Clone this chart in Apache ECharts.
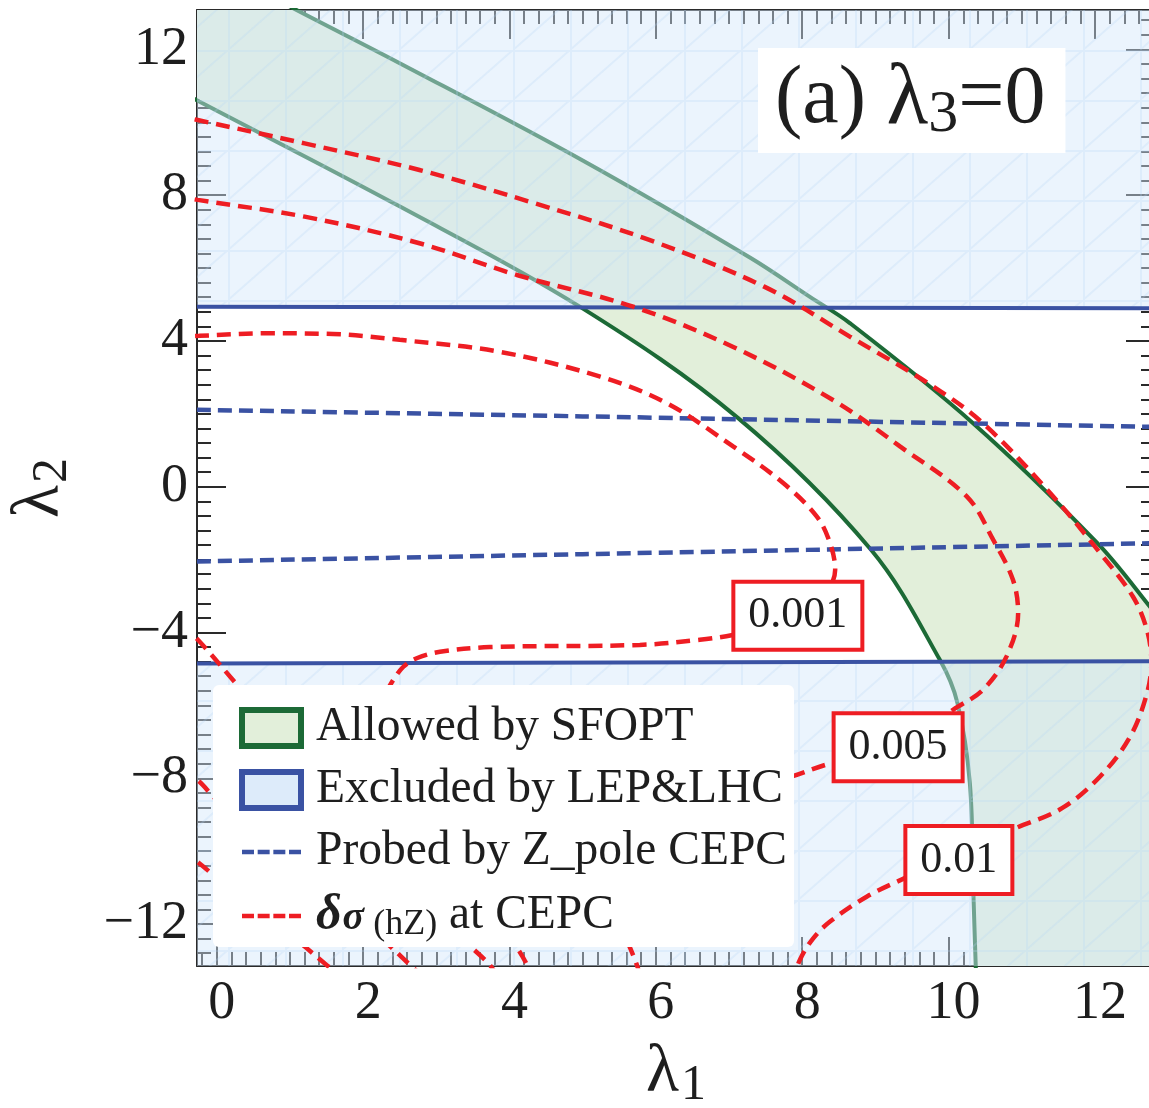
<!DOCTYPE html>
<html>
<head>
<meta charset="utf-8">
<title>(a) λ3=0</title>
<script src="https://cdn.jsdelivr.net/npm/echarts@6.0.0/dist/echarts.min.js"></script>
<style>
html,body{margin:0;padding:0;background:#ffffff;}
#chart{width:1149px;height:1108px;}
</style>
</head>
<body>
<div id="chart"></div>
<script>
// ---------------- axes ----------------
const xRange = [-0.27, 12.82];
const yRange = [-13.15, 13.08];
const xTickValues = [0, 2, 4, 6, 8, 10, 12];
const yTickValues = [-12, -8, -4, 0, 4, 8, 12];
const xMinorStep = 0.2;
const yMinorStep = 0.4;

// ---------------- data (λ1, λ2) ----------------
// SFOPT allowed band: inner (lower-left) and outer (upper-right) boundaries
const sfoptInner = [[-0.6, 10.95], [-0.24, 10.57], [2.51, 7.68], [4.96, 4.94], [7.12, 1.89], [8.94, -1.73],
  [9.88, -4.75], [10.12, -5.93], [10.29, -8.13], [10.34, -11.26], [10.37, -13.12], [10.38, -13.6]];
const sfoptOuter = [[0.75, 13.45], [1.09, 13.08], [2.50, 11.62], [5.0, 8.95], [7.29, 6.28], [8.11, 5.2],
  [8.65, 4.49], [10.33, 1.75], [12.03, -1.54], [12.71, -3.19], [13.2, -4.5]];
// LEP & LHC exclusion boundaries
const lepUpper = [[-0.27, 4.94], [12.82, 4.90]];
const lepLower = [[-0.27, -4.85], [12.82, -4.79]];
// Z-pole CEPC reach
const zpoleUpper = [[-0.27, 2.11], [5.0, 1.93], [12.82, 1.64]];
const zpoleLower = [[-0.27, -2.05], [5.0, -1.85], [12.82, -1.55]];
// δσ(hZ) contours
const delta001Main = [[-0.6, 4.12], [-0.24, 4.14], [0.69, 4.21], [1.59, 4.19], [2.50, 4.03], [3.87, 3.70],
  [5.24, 3.02], [6.15, 2.29], [7.06, 1.10], [7.74, 0.10], [8.20, -0.82], [8.38, -1.55], [8.45, -2.28],
  [8.3, -3.0], [7.9, -3.7], [7.05, -4.07], [6.60, -4.20], [5.78, -4.34], [3.73, -4.40], [3.05, -4.53],
  [2.74, -4.70], [2.55, -4.94], [2.37, -5.44], [2.15, -6.3], [2.1, -7.3], [2.3, -8.6], [2.8, -10.0],
  [3.5, -11.4], [4.05, -12.52], [4.24, -13.12], [4.3, -13.5]];
const delta001Low = [[-0.5, -3.75], [-0.23, -4.26], [0.28, -5.44], [1.0, -7.1], [2.0, -9.4], [2.9, -11.4],
  [3.42, -12.52], [3.73, -13.12], [3.85, -13.5]];
const delta005Main = [[-0.6, 8.0], [-0.26, 7.87], [1.20, 7.41], [2.77, 6.68], [4.10, 5.81], [5.69, 4.94],
  [7.05, 3.84], [8.42, 2.38], [9.34, 1.10], [10.25, -0.27], [10.61, -1.46], [10.88, -2.56], [10.95, -3.47],
  [10.79, -4.66], [10.47, -5.57], [10.06, -6.12], [9.31, -7.14], [8.42, -7.57], [7.86, -7.95], [6.9, -8.6],
  [6.0, -9.6], [5.5, -10.8], [5.45, -11.8], [5.62, -12.52], [5.74, -13.12], [5.8, -13.5]];
const delta005Low = [[-0.5, -7.75], [-0.24, -8.09], [-0.05, -8.50], [0.6, -9.7], [1.4, -11.0], [2.0, -12.0],
  [2.32, -12.52], [2.64, -13.12], [2.8, -13.4]];
const delta010Main = [[-0.6, 10.2], [-0.26, 10.06], [1.20, 9.42], [2.77, 8.69], [4.34, 7.78], [5.91, 6.77],
  [7.48, 5.49], [8.65, 4.12], [9.79, 2.75], [10.47, 1.74], [11.39, -0.18], [12.07, -1.82], [12.52, -3.02],
  [12.71, -3.93], [12.77, -4.8], [12.71, -5.67], [12.48, -6.86], [12.07, -7.95], [11.55, -8.82], [10.88, -9.4],
  [10.13, -10.1], [9.40, -10.74], [8.88, -11.25], [8.38, -11.93], [8.15, -12.39], [7.97, -12.97], [7.9, -13.4]];
const delta010Low = [[-0.5, -9.95], [-0.24, -10.33], [-0.05, -10.65], [0.5, -11.6], [1.14, -12.52],
  [1.50, -13.12], [1.7, -13.4]];
const contourLevels = ['0.001', '0.005', '0.01'];
const contourLabelAt = [[7.94, -3.54], [9.31, -7.15], [10.14, -10.24]];

// ---------------- names / styles ----------------
const NAME_ALLOWED = 'Allowed by SFOPT';
const NAME_EXCL = 'Excluded by LEP&LHC';
const NAME_ZPOLE = 'Probed by Z_pole CEPC';
const NAME_DELTA = 'δσ(hZ) at CEPC';
const SERIF = '"Liberation Serif", "DejaVu Serif", serif';
const RED = '#EE1D23', BLUE = '#3A52A3', GREEN = '#1C6A36', GREENFILL = '#E2EFDA';
const INK = '#2a2a2a', TXT = '#1e1e1e';

function stepTicks(lo, hi, step) {
  const out = [];
  const n0 = Math.ceil(lo / step - 1e-9), n1 = Math.floor(hi / step + 1e-9);
  for (let i = n0; i <= n1; i++) out.push(+(i * step).toFixed(3));
  return out;
}
const xMinorTicks = stepTicks(xRange[0], xRange[1], xMinorStep);
const yMinorTicks = stepTicks(yRange[0], yRange[1], yMinorStep);

function makeHatch() {
  const c = document.createElement('canvas');
  c.width = 57; c.height = 50;
  const g = c.getContext('2d');
  g.fillStyle = 'rgba(212,232,250,0.46)';
  g.fillRect(0, 0, 57, 50);
  g.strokeStyle = 'rgba(180,212,244,0.25)';
  g.lineWidth = 2;
  g.beginPath();
  g.moveTo(1, 0); g.lineTo(1, 50);
  g.moveTo(0, 1); g.lineTo(57, 1);
  g.moveTo(0, 50); g.lineTo(57, 0);
  g.stroke();
  return c;
}
const hatch = { image: makeHatch(), repeat: 'repeat' };

const fmtMinus = v => (v < 0 ? '\u2212' : '') + Math.abs(v);

function nameStyle() {
  return { rich: {
    l: { fontFamily: SERIF, fontSize: 68, color: TXT, lineHeight: 70 },
    s: { fontFamily: SERIF, fontSize: 50, color: TXT, lineHeight: 70, padding: [26, 0, 0, 2] } } };
}
function xAxisDef(position, ticks, len, primary) {
  const ax = {
    type: 'value', position: position, min: xRange[0], max: xRange[1],
    axisLine: { show: primary, onZero: false, lineStyle: { color: INK, width: 2 } },
    axisTick: { show: true, inside: true, length: len, customValues: ticks, lineStyle: { color: INK, width: 2 } },
    axisLabel: { show: false },
    splitLine: { show: false }
  };
  if (primary && position === 'bottom') {
    ax.axisLabel = { show: true, customValues: xTickValues, margin: 11, fontFamily: SERIF, fontSize: 54,
      color: TXT, padding: [0, 0, 0, 10], formatter: fmtMinus };
    ax.name = '{l|λ}{s|1}';
    ax.nameLocation = 'middle';
    ax.nameGap = 72;
    ax.nameMoveOverlap = false;
    ax.nameTextStyle = nameStyle();
  }
  return ax;
}
function yAxisDef(position, ticks, len, primary) {
  const ax = {
    type: 'value', position: position, min: yRange[0], max: yRange[1],
    axisLine: { show: primary, onZero: false, lineStyle: { color: INK, width: 2 } },
    axisTick: { show: true, inside: true, length: len, customValues: ticks, lineStyle: { color: INK, width: 2 } },
    axisLabel: { show: false },
    splitLine: { show: false }
  };
  if (primary && position === 'left') {
    ax.axisLabel = { show: true, customValues: yTickValues, margin: 9, fontFamily: SERIF, fontSize: 54,
      color: TXT, padding: [0, 0, 8, 0], formatter: fmtMinus };
    ax.name = '{l|λ}{s|2}';
    ax.nameLocation = 'middle';
    ax.nameGap = 122;
    ax.nameMoveOverlap = false;
    ax.nameTextStyle = nameStyle();
  }
  return ax;
}

const allowedPolygon = [[xRange[0] - 1, yRange[1] + 1]]
  .concat(sfoptOuter, [[xRange[1] + 1, yRange[0] - 1]], sfoptInner.slice().reverse());

function lineSeries(name, data, color, width, type, z) {
  return { type: 'line', name: name, data: data, showSymbol: false, symbol: 'none', smooth: 0.35,
    clip: true, z: z, silent: true,
    lineStyle: { color: color, width: width, type: type, cap: 'butt' }, itemStyle: { color: color } };
}

const dashIcon = 'path://M0,0h13v5h-13z M17,0h13v5h-13z M34,0h13v5h-13z M51,0h13v5h-13z';
const LEG_FONT = 47.5;

const option = {
  animation: false,
  backgroundColor: '#ffffff',
  grid: { left: 197, top: 10, width: 958, height: 956, containLabel: false, outerBoundsMode: 'none' },
  title: {
    text: '{a|(a) }{b|λ}{c|3}{a|=0}',
    left: 758, top: 48, z: 20,
    backgroundColor: '#ffffff',
    padding: [7, 20, 8, 17],
    textStyle: { fontWeight: 'normal', rich: {
      a: { fontFamily: SERIF, fontSize: 82, fontWeight: 'normal', color: TXT, lineHeight: 90 },
      b: { fontFamily: SERIF, fontSize: 86, fontWeight: 'normal', color: TXT, lineHeight: 90 },
      c: { fontFamily: SERIF, fontSize: 60, fontWeight: 'normal', color: TXT, lineHeight: 90, padding: [30, 0, 0, 0] } } }
  },
  legend: {
    orient: 'vertical', left: 213, top: 685, z: 20,
    backgroundColor: '#ffffff', borderRadius: 6,
    padding: [18, 7, 4, 26],
    itemWidth: 59, itemHeight: 36, itemGap: 12,
    selectedMode: false,
    textStyle: { fontFamily: SERIF, fontSize: LEG_FONT, color: TXT, lineHeight: 50, padding: [0, 0, 0, 10],
      rich: {
        t: { fontFamily: SERIF, fontSize: LEG_FONT, color: TXT, lineHeight: 50 },
        d: { fontFamily: SERIF, fontSize: 50, fontStyle: 'italic', fontWeight: 'bold', color: TXT, lineHeight: 50 },
        s: { fontFamily: SERIF, fontSize: 40, fontStyle: 'italic', fontWeight: 'bold', color: TXT, lineHeight: 50, padding: [6, 0, 0, 1] },
        u: { fontFamily: SERIF, fontSize: 36, color: TXT, lineHeight: 50, padding: [18, 0, 0, 0] }
      } },
    formatter: function (name) {
      if (name === NAME_DELTA) return '{d|δ}{s|σ}{u| (hZ)}{t| at CEPC}';
      return '{t|' + name + '}';
    },
    data: [
      { name: NAME_ALLOWED, icon: 'rect', itemStyle: { color: GREENFILL, borderColor: GREEN, borderWidth: 6 } },
      { name: NAME_EXCL, icon: 'rect', itemStyle: { color: '#DDEBFA', borderColor: BLUE, borderWidth: 6 } },
      { name: NAME_ZPOLE, icon: dashIcon, itemStyle: { color: BLUE, borderWidth: 0, borderColor: 'transparent' } },
      { name: NAME_DELTA, icon: dashIcon, itemStyle: { color: RED, borderWidth: 0, borderColor: 'transparent' } }
    ]
  },
  xAxis: [
    xAxisDef('bottom', xTickValues, 29, true),
    xAxisDef('bottom', xMinorTicks, 14, false),
    xAxisDef('top', xTickValues, 29, true),
    xAxisDef('top', xMinorTicks, 14, false)
  ],
  yAxis: [
    yAxisDef('left', yTickValues, 29, true),
    yAxisDef('left', yMinorTicks, 14, false),
    yAxisDef('right', yTickValues, 29, true),
    yAxisDef('right', yMinorTicks, 14, false)
  ],
  series: [
    {
      type: 'custom', name: NAME_ALLOWED, clip: true, z: 1, silent: true,
      data: [[0, 0]],
      itemStyle: { color: GREENFILL },
      renderItem: function (params, api) {
        return { type: 'polygon', shape: { points: allowedPolygon.map(p => api.coord(p)), smooth: 0.3 },
          style: { fill: GREENFILL } };
      }
    },
    lineSeries(NAME_ALLOWED, sfoptInner, GREEN, 4, 'solid', 2),
    lineSeries(NAME_ALLOWED, sfoptOuter, GREEN, 4, 'solid', 2),
    Object.assign(lineSeries(NAME_EXCL, lepUpper, BLUE, 4, 'solid', 3),
      { smooth: false, areaStyle: { origin: 'end', color: hatch, opacity: 1 } }),
    Object.assign(lineSeries(NAME_EXCL, lepLower, BLUE, 4, 'solid', 3),
      { smooth: false, areaStyle: { origin: 'start', color: hatch, opacity: 1 } }),
    lineSeries(NAME_ZPOLE, zpoleUpper, BLUE, 4.5, [14, 7], 4),
    lineSeries(NAME_ZPOLE, zpoleLower, BLUE, 4.5, [14, 7], 4),
    lineSeries(NAME_DELTA, delta001Main, RED, 4.5, [14, 8], 5),
    lineSeries(NAME_DELTA, delta001Low, RED, 4.5, [14, 8], 5),
    lineSeries(NAME_DELTA, delta005Main, RED, 4.5, [14, 8], 5),
    lineSeries(NAME_DELTA, delta005Low, RED, 4.5, [14, 8], 5),
    lineSeries(NAME_DELTA, delta010Main, RED, 4.5, [14, 8], 5),
    lineSeries(NAME_DELTA, delta010Low, RED, 4.5, [14, 8], 5),
    {
      type: 'scatter', name: 'contour labels', z: 8, silent: true,
      data: contourLabelAt.map((p, i) => [p[0], p[1], contourLevels[i]]),
      symbolSize: 1, itemStyle: { color: 'rgba(0,0,0,0)', opacity: 1 },
      emphasis: { disabled: true },
      label: {
        show: true, position: 'inside', formatter: p => p.value[2], opacity: 1,
        fontFamily: SERIF, fontSize: 44, color: TXT, lineHeight: 50,
        backgroundColor: '#ffffff', borderColor: RED, borderWidth: 4, padding: [7, 13, 7, 13]
      }
    }
  ]
};

const chart = echarts.init(document.getElementById('chart'), null, { renderer: 'canvas' });
chart.setOption(option);
</script>
</body>
</html>
